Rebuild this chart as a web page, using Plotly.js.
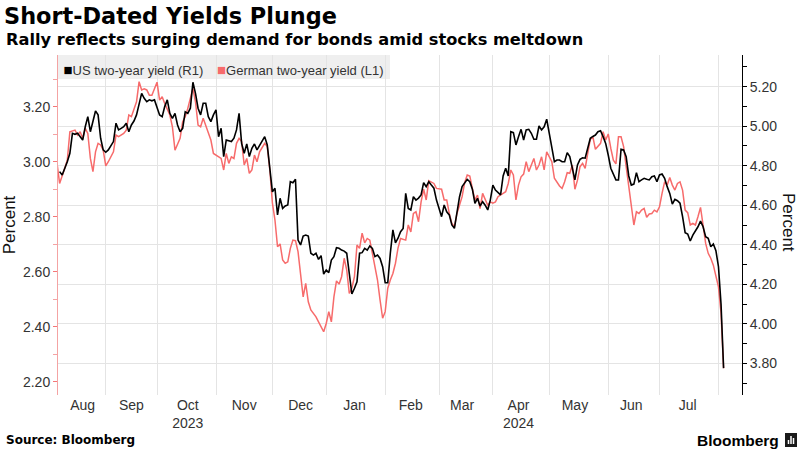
<!DOCTYPE html>
<html><head><meta charset="utf-8">
<script src="https://cdn.plot.ly/plotly-3.0.1.min.js"></script>
<style>html,body{margin:0;padding:0;background:#fff}#chart{width:800px;height:450px}</style>
</head><body><div id="chart"></div>
<script>
const dates = [
'2023-08-07','2023-08-08','2023-08-09','2023-08-10','2023-08-11',
'2023-08-14','2023-08-15','2023-08-16','2023-08-17','2023-08-18',
'2023-08-21','2023-08-22','2023-08-23','2023-08-24','2023-08-25',
'2023-08-28','2023-08-29','2023-08-30','2023-08-31','2023-09-01',
'2023-09-04','2023-09-05','2023-09-06','2023-09-07','2023-09-08',
'2023-09-11','2023-09-12','2023-09-13','2023-09-14','2023-09-15',
'2023-09-18','2023-09-19','2023-09-20','2023-09-21','2023-09-22',
'2023-09-25','2023-09-26','2023-09-27','2023-09-28','2023-09-29',
'2023-10-02','2023-10-03','2023-10-04','2023-10-05','2023-10-06',
'2023-10-09','2023-10-10','2023-10-11','2023-10-12','2023-10-13',
'2023-10-16','2023-10-17','2023-10-18','2023-10-19','2023-10-20',
'2023-10-23','2023-10-24','2023-10-25','2023-10-26','2023-10-27',
'2023-10-30','2023-10-31','2023-11-01','2023-11-02','2023-11-03',
'2023-11-06','2023-11-07','2023-11-08','2023-11-09','2023-11-10',
'2023-11-13','2023-11-14','2023-11-15','2023-11-16','2023-11-17',
'2023-11-20','2023-11-21','2023-11-22','2023-11-23','2023-11-24',
'2023-11-27','2023-11-28','2023-11-29','2023-11-30','2023-12-01',
'2023-12-04','2023-12-05','2023-12-06','2023-12-07','2023-12-08',
'2023-12-11','2023-12-12','2023-12-13','2023-12-14','2023-12-15',
'2023-12-18','2023-12-19','2023-12-20','2023-12-21','2023-12-22',
'2023-12-25','2023-12-26','2023-12-27','2023-12-28','2023-12-29',
'2024-01-01','2024-01-02','2024-01-03','2024-01-04','2024-01-05',
'2024-01-08','2024-01-09','2024-01-10','2024-01-11','2024-01-12',
'2024-01-15','2024-01-16','2024-01-17','2024-01-18','2024-01-19',
'2024-01-22','2024-01-23','2024-01-24','2024-01-25','2024-01-26',
'2024-01-29','2024-01-30','2024-01-31','2024-02-01','2024-02-02',
'2024-02-05','2024-02-06','2024-02-07','2024-02-08','2024-02-09',
'2024-02-12','2024-02-13','2024-02-14','2024-02-15','2024-02-16',
'2024-02-19','2024-02-20','2024-02-21','2024-02-22','2024-02-23',
'2024-02-26','2024-02-27','2024-02-28','2024-02-29','2024-03-01',
'2024-03-04','2024-03-05','2024-03-06','2024-03-07','2024-03-08',
'2024-03-11','2024-03-12','2024-03-13','2024-03-14','2024-03-15',
'2024-03-18','2024-03-19','2024-03-20','2024-03-21','2024-03-22',
'2024-03-25','2024-03-26','2024-03-27','2024-03-28','2024-03-29',
'2024-04-01','2024-04-02','2024-04-03','2024-04-04','2024-04-05',
'2024-04-08','2024-04-09','2024-04-10','2024-04-11','2024-04-12',
'2024-04-15','2024-04-16','2024-04-17','2024-04-18','2024-04-19',
'2024-04-22','2024-04-23','2024-04-24','2024-04-25','2024-04-26',
'2024-04-29','2024-04-30','2024-05-01','2024-05-02','2024-05-03',
'2024-05-06','2024-05-07','2024-05-08','2024-05-09','2024-05-10',
'2024-05-13','2024-05-14','2024-05-15','2024-05-16','2024-05-17',
'2024-05-20','2024-05-21','2024-05-22','2024-05-23','2024-05-24',
'2024-05-27','2024-05-28','2024-05-29','2024-05-30','2024-05-31',
'2024-06-03','2024-06-04','2024-06-05','2024-06-06','2024-06-07',
'2024-06-10','2024-06-11','2024-06-12','2024-06-13','2024-06-14',
'2024-06-17','2024-06-18','2024-06-19','2024-06-20','2024-06-21',
'2024-06-24','2024-06-25','2024-06-26','2024-06-27','2024-06-28',
'2024-07-01','2024-07-02','2024-07-03','2024-07-04','2024-07-05',
'2024-07-08','2024-07-09','2024-07-10','2024-07-11','2024-07-12',
'2024-07-15','2024-07-16','2024-07-17','2024-07-18','2024-07-19',
'2024-07-22','2024-07-23','2024-07-24','2024-07-25','2024-07-26',
'2024-07-29','2024-07-30','2024-07-31','2024-08-01','2024-08-02',
'2024-08-05'
];

// US two-year yield (right axis, %)
const usYield = [
null,4.770,4.753,null,4.820,
4.863,4.964,4.959,4.964,4.947,
4.930,4.997,5.048,4.972,5.031,
5.077,5.057,4.939,4.880,4.868,
4.880,null,4.922,5.015,4.981,
4.989,4.997,5.015,4.972,5.006,
5.026,5.057,null,5.166,5.141,
5.124,5.133,5.128,5.133,5.099,
5.057,5.048,5.099,5.133,5.065,
5.040,5.065,5.006,4.972,4.989,
5.073,5.065,5.091,5.222,5.166,
5.091,5.057,5.116,5.116,5.048,
5.023,5.057,5.082,4.947,4.989,
4.846,4.930,null,4.922,4.939,
4.981,5.065,4.913,4.863,4.910,
4.846,4.888,4.910,4.880,4.905,
null,4.947,4.905,4.778,4.668,
4.686,4.551,4.635,4.584,4.596,
4.601,4.719,4.714,4.731,4.424,
4.399,4.444,4.449,4.444,4.357,
4.348,4.357,4.326,4.345,4.252,
4.272,4.259,4.323,4.340,4.385,
4.382,4.373,4.368,4.357,4.255,
4.151,4.180,4.213,4.357,4.360,
4.382,4.373,4.394,4.382,4.340,
4.348,4.331,4.289,4.208,4.208,
4.357,4.475,4.410,4.433,4.466,
4.483,4.660,4.584,4.576,4.643,
4.626,4.636,4.652,4.714,4.694,
4.719,4.702,4.686,4.626,4.584,
4.542,4.601,4.567,4.551,4.500,
4.483,4.576,4.643,4.694,4.712,
4.731,4.719,4.681,4.610,4.635,
4.596,4.618,4.600,4.576,4.626,
4.702,4.677,4.663,4.652,4.748,
4.787,4.748,4.972,4.967,4.905,
4.947,4.984,4.930,4.981,4.984,
4.964,4.934,4.934,5.001,4.981,
4.997,5.035,4.964,4.880,4.820,
4.829,4.829,4.820,4.820,4.866,
4.846,null,4.728,4.804,4.832,
4.840,4.838,4.896,4.939,4.948,
4.955,4.972,4.977,4.947,4.913,
4.854,4.787,null,4.728,4.728,
4.883,4.880,4.846,4.748,4.702,
4.707,4.765,4.719,4.728,4.736,
4.731,4.728,4.744,4.748,4.719,
4.753,4.758,4.736,4.694,4.660,
4.606,4.630,4.623,4.610,4.542,
4.461,4.454,4.419,4.449,4.470,
4.491,4.520,4.491,4.441,4.433,
4.390,4.404,4.370,4.290,4.100,
3.776
];

// German two-year yield (left axis, %)
const deYield = [
2.994,2.921,null,2.976,3.006,
3.109,null,3.115,3.097,3.109,
3.085,3.121,3.103,3.012,2.964,
3.036,3.067,3.061,3.042,2.985,
3.000,null,3.036,3.097,3.091,
null,3.103,3.115,3.170,3.164,
null,3.218,3.291,3.261,3.265,
3.261,3.242,3.242,null,3.289,
3.224,3.236,3.212,null,3.170,
3.127,3.042,null,3.085,3.145,
3.164,3.194,null,3.267,3.218,
3.133,3.127,3.158,null,3.109,
3.079,3.030,null,3.018,3.012,
2.970,3.030,2.994,3.018,3.012,
3.067,3.085,3.073,2.988,3.012,
2.958,2.970,3.024,3.000,3.036,
null,3.067,3.055,2.970,2.850,
2.788,2.691,2.701,2.643,2.631,
2.636,2.685,2.715,2.713,2.673,
2.582,2.509,2.558,2.491,2.461,
null,2.436,2.418,2.400,2.382,
2.412,2.455,2.418,2.509,2.567,
2.555,2.582,2.649,2.606,2.521,
2.540,2.582,2.697,2.685,2.740,
2.705,2.721,2.715,2.667,2.618,
2.570,2.497,2.431,2.455,2.540,
2.570,2.594,2.631,2.686,2.721,
2.718,2.715,2.770,2.745,2.812,
2.818,2.782,2.854,2.900,2.861,
2.931,null,2.921,2.903,null,
2.900,2.861,2.861,2.812,2.776,
2.764,2.812,null,2.873,2.924,
2.952,2.948,2.903,2.861,2.879,
2.830,2.885,2.861,2.842,2.854,
2.849,2.854,2.873,null,2.885,
2.891,2.921,2.970,2.952,2.861,
2.915,2.945,2.955,3.000,2.964,
2.988,3.012,2.970,2.988,3.018,
2.970,3.036,null,3.000,2.940,
null,2.912,2.903,2.927,2.960,
2.958,2.988,2.900,2.933,2.982,
2.994,2.976,3.030,3.081,3.091,
3.045,null,3.067,3.109,3.079,
3.101,3.049,3.006,2.992,3.091,
3.091,3.055,2.982,2.909,2.836,
2.770,2.818,2.812,2.824,2.830,
2.798,2.810,2.812,2.824,2.818,
2.836,2.885,2.927,2.915,2.943,
2.915,2.897,2.921,2.927,2.897,
2.824,2.815,2.770,2.776,2.770,
2.800,2.834,2.770,2.703,2.667,
2.649,2.624,2.588,2.545,2.450,
2.249
];

const monthTickDates = ['2023-08-21','2023-09-15','2023-10-17','2023-11-16','2023-12-18','2024-01-16',
  '2024-02-15','2024-03-14','2024-04-15','2024-05-15','2024-06-14','2024-07-16'];
const monthTickLabels = ['Aug','Sep','Oct<br>2023','Nov','Dec','Jan','Feb','Mar','Apr<br>2024','May','Jun','Jul'];

const seriesNames = ['US two-year yield (R1)', 'German two-year yield (L1)'];
const US_COLOR = '#000000';
const DE_COLOR = '#f76b6b';

const sq = c => '<span style="color:' + c + ';font-size:15px">■</span>';

const traces = [
  {x: dates, y: deYield, yaxis: 'y', type: 'scatter', mode: 'lines', connectgaps: true,
   line: {color: DE_COLOR, width: 1.5}, showlegend: false, hoverinfo: 'skip'},
  {x: dates, y: usYield, yaxis: 'y2', type: 'scatter', mode: 'lines', connectgaps: true,
   line: {color: US_COLOR, width: 1.6}, showlegend: false, hoverinfo: 'skip'},
  {x: [null], y: [null], yaxis: 'y2', type: 'scatter', mode: 'markers', legend: 'legend',
   marker: {color: 'rgba(0,0,0,0)', line: {width: 0}},
   name: sq(US_COLOR) + seriesNames[0], showlegend: true},
  {x: [null], y: [null], yaxis: 'y2', type: 'scatter', mode: 'markers', legend: 'legend2',
   marker: {color: 'rgba(0,0,0,0)', line: {width: 0}},
   name: sq(DE_COLOR) + seriesNames[1], showlegend: true}
];

const tickFont = {family: 'Liberation Sans, Arial, sans-serif', size: 14, color: '#333'};
const legendFont = {family: 'Liberation Sans, Arial, sans-serif', size: 13, color: '#333'};
const L = 58, R = 58, T = 55, B = 55, PW = 800 - L - R, PH = 450 - T - B;
const px = v => (v - L) / PW;
const py = v => (450 - B - v) / PH;

const layout = {
  width: 800, height: 450,
  margin: {l: L, r: R, t: T, b: B, pad: 0},
  paper_bgcolor: '#fff', plot_bgcolor: '#fff',
  font: {family: 'Liberation Sans, Arial, sans-serif', color: '#333'},
  title: {text: '<b>Short-Dated Yields Plunge</b>', x: 4 / 800, xref: 'container', xanchor: 'left',
          y: 1 - 16 / 450, yref: 'container', yanchor: 'middle',
          font: {family: 'DejaVu Sans, sans-serif', size: 22.4, color: '#000'}},
  showlegend: true,
  legend: {orientation: 'h', x: px(23.5), xanchor: 'left', y: 1, yanchor: 'top',
           bgcolor: 'rgba(0,0,0,0)', borderwidth: 0, font: legendFont},
  legend2: {orientation: 'h', x: px(177), xanchor: 'left', y: 1, yanchor: 'top',
           bgcolor: 'rgba(0,0,0,0)', borderwidth: 0, font: legendFont},
  xaxis: {type: 'date', range: ['2023-08-07 08:53', '2024-08-14 04:20'],
          rangebreaks: [{bounds: ['sat', 'mon']}],
          tickmode: 'array', tickvals: monthTickDates, ticktext: monthTickLabels,
          ticks: '', showgrid: false, showline: false, zeroline: false, tickfont: tickFont,
          minor: {tickmode: 'linear', tick0: '2023-08-01', dtick: 'M1', showgrid: true,
                  gridcolor: '#e4e4e4', gridwidth: 1, ticks: ''},
          fixedrange: true},
  yaxis: {range: [2.152, 3.388], tickmode: 'linear', tick0: 2.2, dtick: 0.2, tickformat: '.2f',
          showgrid: false, zeroline: false, showline: true, linecolor: '#f4a3a3', linewidth: 1,
          ticks: 'outside', ticklen: 4, tickcolor: '#f47777', tickfont: tickFont,
          minor: {tickmode: 'linear', tick0: 2.2, dtick: 0.1, ticks: 'outside', ticklen: 4, tickcolor: '#f4a3a3', showgrid: false},
          title: {text: 'Percent', font: {family: 'Liberation Sans, Arial, sans-serif', size: 17, color: '#111'}, standoff: 6},
          fixedrange: true},
  yaxis2: {overlaying: 'y', side: 'right', range: [3.64, 5.36], tickmode: 'linear', tick0: 3.8, dtick: 0.2,
           tickformat: '.2f', showgrid: true, gridcolor: '#e4e4e4', gridwidth: 1, zeroline: false,
           showline: true, linecolor: '#000', linewidth: 1, ticks: 'outside', ticklen: 4, tickcolor: '#000',
           tickfont: tickFont,
           minor: {tickmode: 'linear', tick0: 3.8, dtick: 0.1, ticks: 'outside', ticklen: 4, tickcolor: '#000', showgrid: false},
           fixedrange: true},
  shapes: [
    {type: 'rect', xref: 'paper', yref: 'paper', x0: 0, x1: px(390), y0: py(79), y1: 1,
     fillcolor: '#efefef', line: {width: 0}, layer: 'below'},
    {type: 'rect', xref: 'paper', yref: 'paper', x0: px(785), x1: px(797), y0: py(447), y1: py(433),
     fillcolor: '#1a1a1a', line: {width: 0}},
    {type: 'line', xref: 'paper', yref: 'paper', x0: px(788.5), x1: px(788.5), y0: py(444), y1: py(440),
     line: {color: '#fff', width: 1.5}},
    {type: 'line', xref: 'paper', yref: 'paper', x0: px(791), x1: px(791), y0: py(444), y1: py(436),
     line: {color: '#fff', width: 1.5}},
    {type: 'line', xref: 'paper', yref: 'paper', x0: px(793.5), x1: px(793.5), y0: py(444), y1: py(438),
     line: {color: '#fff', width: 1.5}}
  ],
  annotations: [
    {text: '<b>Rally reflects surging demand for bonds amid stocks meltdown</b>', xref: 'paper', yref: 'paper',
     x: px(4), y: py(40), xanchor: 'left', yanchor: 'middle', showarrow: false,
     font: {family: 'DejaVu Sans, sans-serif', size: 16.2, color: '#000'}},
    {text: 'Percent', xref: 'paper', yref: 'paper', x: px(789), y: py(222), xanchor: 'center', yanchor: 'middle',
     textangle: 90, showarrow: false,
     font: {family: 'Liberation Sans, Arial, sans-serif', size: 17, color: '#111'}},
    {text: '<b>Source: Bloomberg</b>', xref: 'paper', yref: 'paper',
     x: px(4), y: py(440), xanchor: 'left', yanchor: 'middle', showarrow: false,
     font: {family: 'DejaVu Sans, sans-serif', size: 12, color: '#000'}},
    {text: '<b>Bloomberg</b>', xref: 'paper', yref: 'paper',
     x: px(781), y: py(440), xanchor: 'right', yanchor: 'middle', showarrow: false,
     font: {family: 'Liberation Sans, Arial, sans-serif', size: 15.5, color: '#000'}}
  ]
};

Plotly.newPlot('chart', traces, layout, {displayModeBar: false, staticPlot: true});
</script>
</body></html>
